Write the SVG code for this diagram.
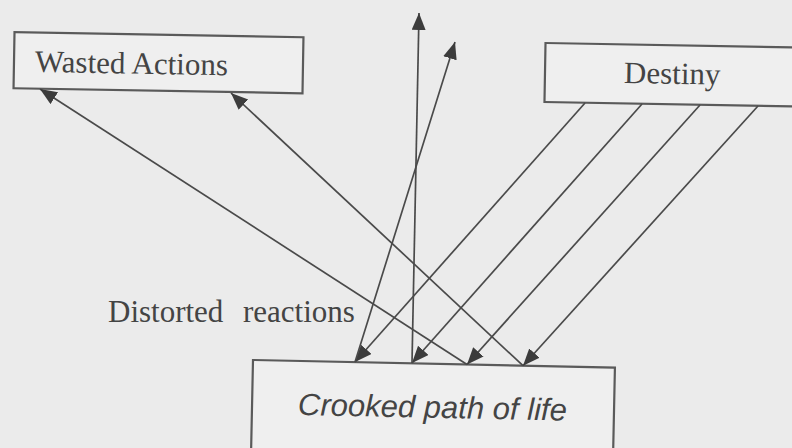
<svg xmlns="http://www.w3.org/2000/svg" width="792" height="448" viewBox="0 0 792 448">
<style>
.box{fill:#efefef;stroke:#5a5a5a;stroke-width:2.2}
.serif{font-family:"Liberation Serif","Times New Roman",serif;font-size:31px;fill:#444}
.sans{font-family:"Liberation Sans",Arial,sans-serif;font-size:31px;font-style:italic;fill:#444}
.conn line{stroke:#4a4a4a;stroke-width:1.7;fill:none}
</style>
<defs>
<marker id="ah" markerUnits="userSpaceOnUse" markerWidth="20" markerHeight="16" refX="17" refY="7" orient="auto">
<path d="M0,0 L17,7 L0,14 Z" fill="#3c3c3c"/>
</marker>
</defs>
<rect x="0" y="0" width="792" height="448" fill="#ebebeb"/>
<g id="wasted" transform="rotate(1 158.5 62.75)">
<rect class="box" x="14" y="34.75" width="289" height="56"/>
<text class="serif" x="35" y="74">Wasted Actions</text>
</g>
<g id="destiny" transform="rotate(1 545 72.5)">
<rect class="box" x="545" y="43" width="290" height="59"/>
<text class="serif" x="624" y="81.6">Destiny</text>
</g>
<g id="crooked" transform="rotate(1.2 253 360)">
<rect class="box" x="253" y="360" width="362" height="95"/>
<text class="sans" x="299" y="414">Crooked path of life</text>
</g>
<g id="label">
<text class="serif" x="108" y="322">Distorted</text>
<text class="serif" x="243" y="322">reactions</text>
</g>
<g id="connectors" class="conn">
<line x1="585" y1="103" x2="355" y2="362" marker-end="url(#ah)"/>
<line x1="642" y1="104" x2="412" y2="363" marker-end="url(#ah)"/>
<line x1="700" y1="105" x2="467" y2="364.5" marker-end="url(#ah)"/>
<line x1="758" y1="106" x2="523" y2="365.7" marker-end="url(#ah)"/>
<line x1="355" y1="362" x2="455" y2="42" marker-end="url(#ah)"/>
<line x1="412" y1="363" x2="419" y2="13" marker-end="url(#ah)"/>
<line x1="467" y1="364.5" x2="40" y2="89" marker-end="url(#ah)"/>
<line x1="523" y1="365.7" x2="231" y2="93" marker-end="url(#ah)"/>
</g>
</svg>
